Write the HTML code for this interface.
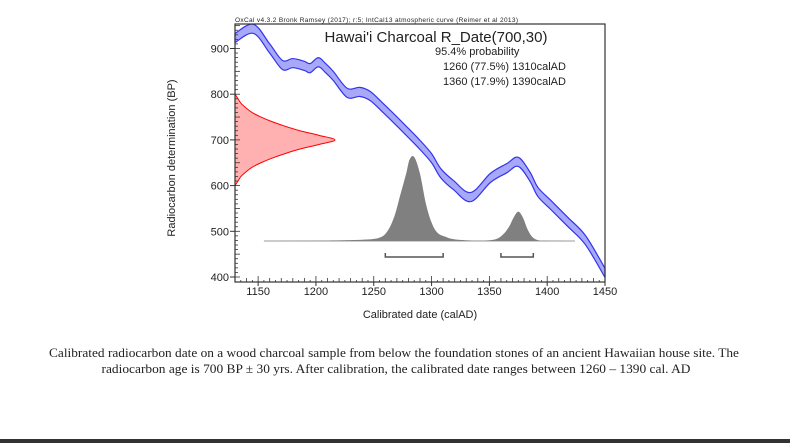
<!DOCTYPE html>
<html><head><meta charset="utf-8"><style>
body{margin:0;background:#fff;width:790px;height:443px;overflow:hidden}
svg{display:block}
text{font-family:"Liberation Sans",sans-serif;fill:#222}
</style></head><body>
<svg id="chart" width="790" height="443" viewBox="0 0 790 443"></svg>
<script>
// ---- data ----
const curveYears = [1130,1146,1160,1171,1180,1190,1195,1202,1208,1215,1227,1238,1247,1258,1269,1280,1290,1300,1308,1319,1334,1351,1365,1375,1385,1392,1403,1418,1433,1450];
const curveBP    = [ 923, 943, 900, 864, 868, 862, 857, 870, 858, 840, 803, 805, 796, 770, 743, 715, 689, 660, 627, 601, 575, 617, 638, 652, 620, 586, 558, 520, 481, 409];
const curveErr   = 10;
const probYears  = [1155,1200,1240,1255,1262,1268,1273,1278,1281,1285,1290,1295,1300,1305,1312,1320,1340,1355,1362,1367,1371,1375,1379,1383,1387,1392,1400,1424];
const probDens   = [0,   0.5, 1.5, 4,   12,  30,  55,  80,  97,  100, 80,  45,  22,  10,  5,   2,   0.5, 2,   8,   17,  28,  35,  28,  14,  5,   1,   0.3, 0];
const rdateBP    = [800,790,780,770,760,750,740,730,720,710,700,690,680,670,660,650,640,630,620,610,600];
const rdateDens  = [0,  3,  6,  11, 17, 26, 37, 50, 65, 84, 100,84, 65, 50, 37, 26, 17, 11, 6,  3,  0];
const ranges     = [[1260,1310],[1360,1388]];
const xTicks     = [1150,1200,1250,1300,1350,1400,1450];
const yTicks     = [400,500,600,700,800,900];

const svg=document.getElementById('chart');const NS='http://www.w3.org/2000/svg';
function mk(t,a,p){const e=document.createElementNS(NS,t);for(const k in a)e.setAttribute(k,a[k]);(p||svg).appendChild(e);return e;}
function smooth(pts,start){let d=start?'M'+pts[0][0]+','+pts[0][1]:' L'+pts[0][0]+','+pts[0][1];
 for(let i=0;i<pts.length-1;i++){const p0=pts[i-1]||pts[i],p1=pts[i],p2=pts[i+1],p3=pts[i+2]||p2;
  const c1=[p1[0]+(p2[0]-p0[0])/6,p1[1]+(p2[1]-p0[1])/6],c2=[p2[0]-(p3[0]-p1[0])/6,p2[1]-(p3[1]-p1[1])/6];
  d+=` C${c1[0]},${c1[1]} ${c2[0]},${c2[1]} ${p2[0]},${p2[1]}`;}return d;}
const L=235,R=605,T=24,B=282;
const x=v=>L+(v-1130)*(R-L)/320;
const y=v=>277-(v-400)*0.457;

// red R_Date distribution
const rpts=rdateBP.map((b,i)=>[L+rdateDens[i]*1.0,y(b)]);
const rd=mk('path',{d:`M${L},${y(rdateBP[0])}`+smooth(rpts,false)+' Z',fill:'#ffb0b0',stroke:'#f00','stroke-width':1});



// calibration curve band
const upPts=curveYears.map((yr,i)=>[x(yr),y(curveBP[i]+curveErr)]);
const loPts=curveYears.map((yr,i)=>[x(yr),y(curveBP[i]-curveErr)]).reverse();
const cb=mk('path',{d:smooth(upPts,true)+smooth(loPts,false)+' Z',fill:'#a8a8f8',stroke:'#3333ee','stroke-width':1.2,'stroke-linejoin':'round'});



// calibrated probability
const base=241;
const ppts=probYears.map((yr,i)=>[x(yr),base-probDens[i]*0.84]);
mk('line',{x1:x(probYears[0]),x2:x(probYears[probYears.length-1]),y1:base,y2:base,stroke:'#999','stroke-width':1});
const pp=mk('path',{d:`M${x(probYears[0])},${base}`+smooth(ppts,false)+` L${x(probYears[probYears.length-1])},${base} Z`,fill:'#808080'});



// range brackets
ranges.forEach(r=>{
 const g=mk('path',{d:`M${x(r[0])},253 L${x(r[0])},257 L${x(r[1])},257 L${x(r[1])},253`,fill:'none',stroke:'#555','stroke-width':1.5});
 
 
});

// frame
const fr=mk('rect',{x:L,y:T,width:R-L,height:B-T,fill:'none',stroke:'#333','stroke-width':1.2});



// x ticks
for(let v=1130;v<=1450;v+=5){const maj=v%50===0;mk('line',{x1:x(v),x2:x(v),y1:B,y2:B-(maj?6:(v%10===0?4:2)),stroke:'#333','stroke-width':0.8});}
xTicks.forEach(v=>{mk('line',{x1:x(v),x2:x(v),y1:B,y2:B+4,stroke:'#333'});
 const t=mk('text',{x:x(v),y:B+13,'text-anchor':'middle','font-size':11});t.textContent=v;
 });
// y ticks
for(let v=400;v<=950;v+=10){mk('line',{x1:L,x2:L+(v%50===0?5:3),y1:y(v),y2:y(v),stroke:'#333','stroke-width':0.8});}
yTicks.forEach(v=>{mk('line',{x1:L-5,x2:L,y1:y(v),y2:y(v),stroke:'#333'});
 const t=mk('text',{x:L-6,y:y(v)+4,'text-anchor':'end','font-size':11});t.textContent=v;
 });

function txt(s,a,name){const t=mk('text',a);t.textContent=s;return t;}
txt('OxCal v4.3.2 Bronk Ramsey (2017); r:5; IntCal13 atmospheric curve (Reimer et al 2013)',{x:235,y:22,'font-size':6.5,textLength:283},'credit-line');
txt("Hawai'i Charcoal R_Date(700,30)",{x:436,y:42,'text-anchor':'middle','font-size':15},'chart-title');
txt('95.4% probability',{x:435,y:55,'font-size':11},'probability-label');
txt('1260 (77.5%) 1310calAD',{x:443,y:70,'font-size':11},'range-1-label');
txt('1360 (17.9%) 1390calAD',{x:443,y:85,'font-size':11},'range-2-label');
txt('Calibrated date (calAD)',{x:420,y:318,'text-anchor':'middle','font-size':11},'x-axis-title');
txt('Radiocarbon determination (BP)',{x:0,y:0,'text-anchor':'middle','font-size':11,transform:'translate(175,158) rotate(-90)'},'y-axis-title');
const c1=txt('Calibrated radiocarbon date on a wood charcoal sample from below the foundation stones of an ancient Hawaiian house site. The',{x:394,y:357,'text-anchor':'middle','font-size':13,textLength:690,lengthAdjust:'spacingAndGlyphs'},'caption-line-1');
c1.style.fontFamily='"Liberation Serif",serif';
const c2=txt('radiocarbon age is 700 BP ± 30 yrs. After calibration, the calibrated date ranges between 1260 – 1390 cal. AD',{x:396,y:373,'text-anchor':'middle','font-size':13,textLength:589,lengthAdjust:'spacingAndGlyphs'},'caption-line-2');
c2.style.fontFamily='"Liberation Serif",serif';
const bar=mk('rect',{x:0,y:439,width:790,height:4,fill:'#333'});


</script>
</body></html>
